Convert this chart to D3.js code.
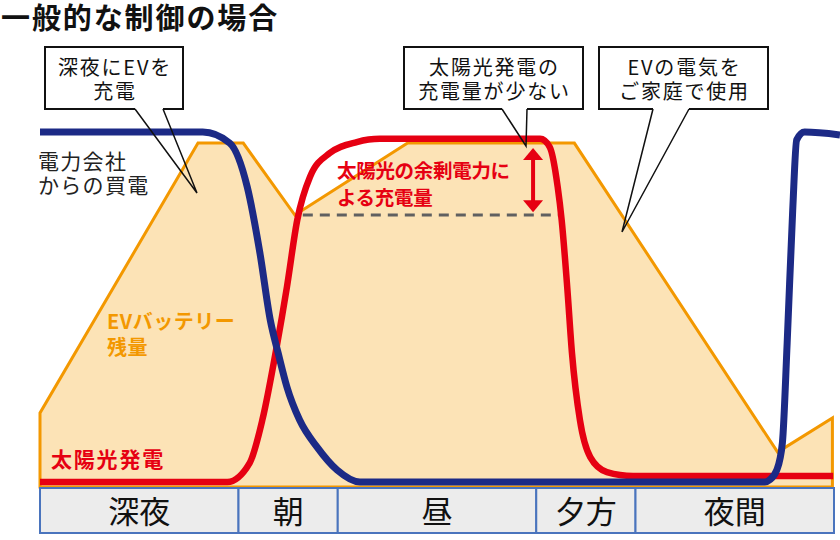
<!DOCTYPE html>
<html><head><meta charset="utf-8">
<script src="https://cdn.jsdelivr.net/npm/d3@7"></script>
<style>body{margin:0;background:#fff} svg{display:block}</style>
</head><body>
<svg id="c" width="840" height="540"></svg>
<script>
// ---------- data ----------
const title = "一般的な制御の場合";
const periods = ["深夜", "朝", "昼", "夕方", "夜間"];
const periodBounds = [0, 25, 37.5, 62.5, 75, 100];

// EV battery remaining (area)
const batteryX = [0, 0, 19.9, 25.6, 32.1, 46.3, 67.3, 92.9, 99.8, 99.8];
const batteryY = [0, 20.8, 96.6, 96.6, 76.4, 96.6, 96.6, 9.8, 19.4, 0];

// Grid purchase (blue)
const gridX = [0, 20.5, 23.9, 26.1, 27.7, 29.0, 30.0, 31.1, 32.7, 34.9, 37.4, 40.3, 42.8, 91.3, 91.9, 92.8, 93.5, 94.1, 94.8, 95.3, 96.3, 100.75];
const gridY = [99.7, 99.7, 96.6, 84.3, 65.7, 46.9, 37.6, 28.1, 18.8, 11.2, 4.8, 1.4, 1.4, 1.4, 2.0, 4.8, 12.4, 40.4, 77.8, 97.5, 99.7, 98.9];

// Solar generation (red)
const solarX = [0, 23.6, 26.4, 28.0, 29.8, 31.1, 32.4, 34.0, 36.5, 39.9, 42.8, 63.0, 64.2, 65.2, 65.7, 66.4, 67.0, 68.0, 69.3, 71.4, 74.7, 99.9];
const solarY = [1.4, 1.4, 6.7, 18.8, 39.3, 56.2, 75.0, 87.1, 93.8, 96.9, 97.8, 97.8, 95.5, 84.3, 75.0, 56.2, 37.6, 18.8, 8.4, 4.2, 3.1, 3.1];

// surplus marker
const surplusLineX = [33.1, 65.5];
const surplusLevel = 76.4;
const surplusArrowX = 62.1;
const surplusArrowY = [95.2, 77.2];

// text
const gridLabel = ["電力会社", "からの買電"];
const batteryLabel = ["EVバッテリー", "残量"];
const solarLabel = "太陽光発電";
const surplusLabel = ["太陽光の余剰電力に", "よる充電量"];
const calloutTexts = [["深夜にEVを", "充電"], ["太陽光発電の", "充電量が少ない"], ["EVの電気を", "ご家庭で使用"]];

// ---------- layout ----------
const FONT = "'Noto Sans CJK JP','Noto Sans',sans-serif";
const C = { blue: "#1c2a86", red: "#e60012", orange: "#f39800", fill: "#fce3b6", band: "#ececec", bandStroke: "#4a74bd", dash: "#606060" };
const calloutLayout = [
  { box: [45, 47, 183, 109], base: [135, 163], tip: [197, 193] },
  { box: [404, 47, 583, 109], base: [502, 527], tip: [526, 146] },
  { box: [599, 47, 768, 109], base: [653, 689], tip: [622, 232] }
];

const svg = d3.select("#c");
const x = d3.scaleLinear().domain([0, 100]).range([40, 834]);
const y = d3.scaleLinear().domain([0, 100]).range([487, 131]);

// battery area
const battery = batteryX.map((v, i) => [v, batteryY[i]]);
svg.append("path")
  .attr("d", d3.line().x(d => x(d[0])).y(d => y(d[1]))(battery) + "Z")
  .attr("fill", C.fill).attr("stroke", C.orange).attr("stroke-width", 3).attr("stroke-linejoin", "miter");

// dashed surplus baseline
svg.append("line")
  .attr("x1", x(surplusLineX[0])).attr("x2", x(surplusLineX[1]))
  .attr("y1", y(surplusLevel)).attr("y2", y(surplusLevel))
  .attr("stroke", C.dash).attr("stroke-width", 3).attr("stroke-dasharray", "10,7");

// lines
const curve = d3.line().x(d => x(d[0])).y(d => y(d[1])).curve(d3.curveMonotoneX);
const solar = solarX.map((v, i) => [v, solarY[i]]);
const grid = gridX.map((v, i) => [v, gridY[i]]);
svg.append("path").attr("d", curve(solar)).attr("fill", "none")
  .attr("stroke", C.red).attr("stroke-width", 6.5).attr("stroke-linecap", "butt").attr("stroke-linejoin", "round");
svg.append("path").attr("d", curve(grid)).attr("fill", "none")
  .attr("stroke", C.blue).attr("stroke-width", 7).attr("stroke-linecap", "butt").attr("stroke-linejoin", "round");

// double arrow
{
  const ax = x(surplusArrowX), y1 = y(surplusArrowY[0]), y2 = y(surplusArrowY[1]);
  const hw = 10, hl = 12;
  svg.append("line").attr("x1", ax).attr("x2", ax).attr("y1", y1 + hl - 1).attr("y2", y2 - hl + 1)
    .attr("stroke", C.red).attr("stroke-width", 4);
  svg.append("path").attr("d", `M${ax},${y1} L${ax - hw},${y1 + hl} L${ax + hw},${y1 + hl} Z`).attr("fill", C.red);
  svg.append("path").attr("d", `M${ax},${y2} L${ax - hw},${y2 - hl} L${ax + hw},${y2 - hl} Z`).attr("fill", C.red);
}

// title
svg.append("text").attr("x", 1).attr("y", 16).attr("dominant-baseline", "central")
  .attr("font-family", FONT).attr("font-weight", 700).attr("font-size", 29).attr("letter-spacing", 1.9)
  .attr("fill", "#111").text(title);

// multi-line labels as one text element with tspans
function lines(arr, x0, yc, lh, size, weight, color, ls, anchor) {
  const t = svg.append("text").attr("x", x0).attr("y", yc)
    .attr("text-anchor", anchor || "start")
    .attr("font-family", FONT).attr("font-weight", weight).attr("font-size", size)
    .attr("letter-spacing", ls).attr("fill", color);
  arr.forEach((s, i) => {
    t.append("tspan").attr("x", x0).attr("y", yc + i * lh).attr("dominant-baseline", "central").text(s);
  });
}
lines(gridLabel, 38, 160, 24, 21, 400, "#222", 1.3);
lines(batteryLabel, 107, 320, 26, 20, 700, C.orange, 0.5);
lines([solarLabel], 51, 458, 0, 21, 700, C.red, 1.8);
lines(surplusLabel, 337, 169, 27, 19.5, 700, C.red, -0.3);

// callouts
calloutLayout.forEach((c, i) => {
  const [l, t, r, b] = c.box;
  svg.append("rect").attr("x", l).attr("y", t).attr("width", r - l).attr("height", b - t).attr("fill", "#fff");
  svg.append("path")
    .attr("d", `M${c.base[0]},${b} L${l},${b} L${l},${t} L${r},${t} L${r},${b} L${c.base[1]},${b}`)
    .attr("fill", "none").attr("stroke", "#111").attr("stroke-width", 2);
  svg.append("path")
    .attr("d", `M${c.base[0]},${b} L${c.tip[0]},${c.tip[1]} L${c.base[1]},${b}`)
    .attr("fill", "none").attr("stroke", "#111").attr("stroke-width", 1.5).attr("stroke-linejoin", "miter");
  lines(calloutTexts[i], (l + r) / 2 + 1, 66, 24, 20, 400, "#111", 1.8, "middle");
});

// period band
const bandTop = 488, bandBot = 533;
const band = svg.append("g");
periods.forEach((p, i) => {
  const x0 = x(periodBounds[i]), x1 = x(periodBounds[i + 1]);
  band.append("rect").attr("x", x0).attr("y", bandTop).attr("width", x1 - x0).attr("height", bandBot - bandTop)
    .attr("fill", C.band).attr("stroke", C.bandStroke).attr("stroke-width", 2);
  band.append("text").attr("x", (x0 + x1) / 2).attr("y", (bandTop + bandBot) / 2 - 1)
    .attr("dominant-baseline", "central").attr("text-anchor", "middle")
    .attr("font-family", FONT).attr("font-size", 31).attr("fill", "#111").text(p);
});
</script>
</body></html>
